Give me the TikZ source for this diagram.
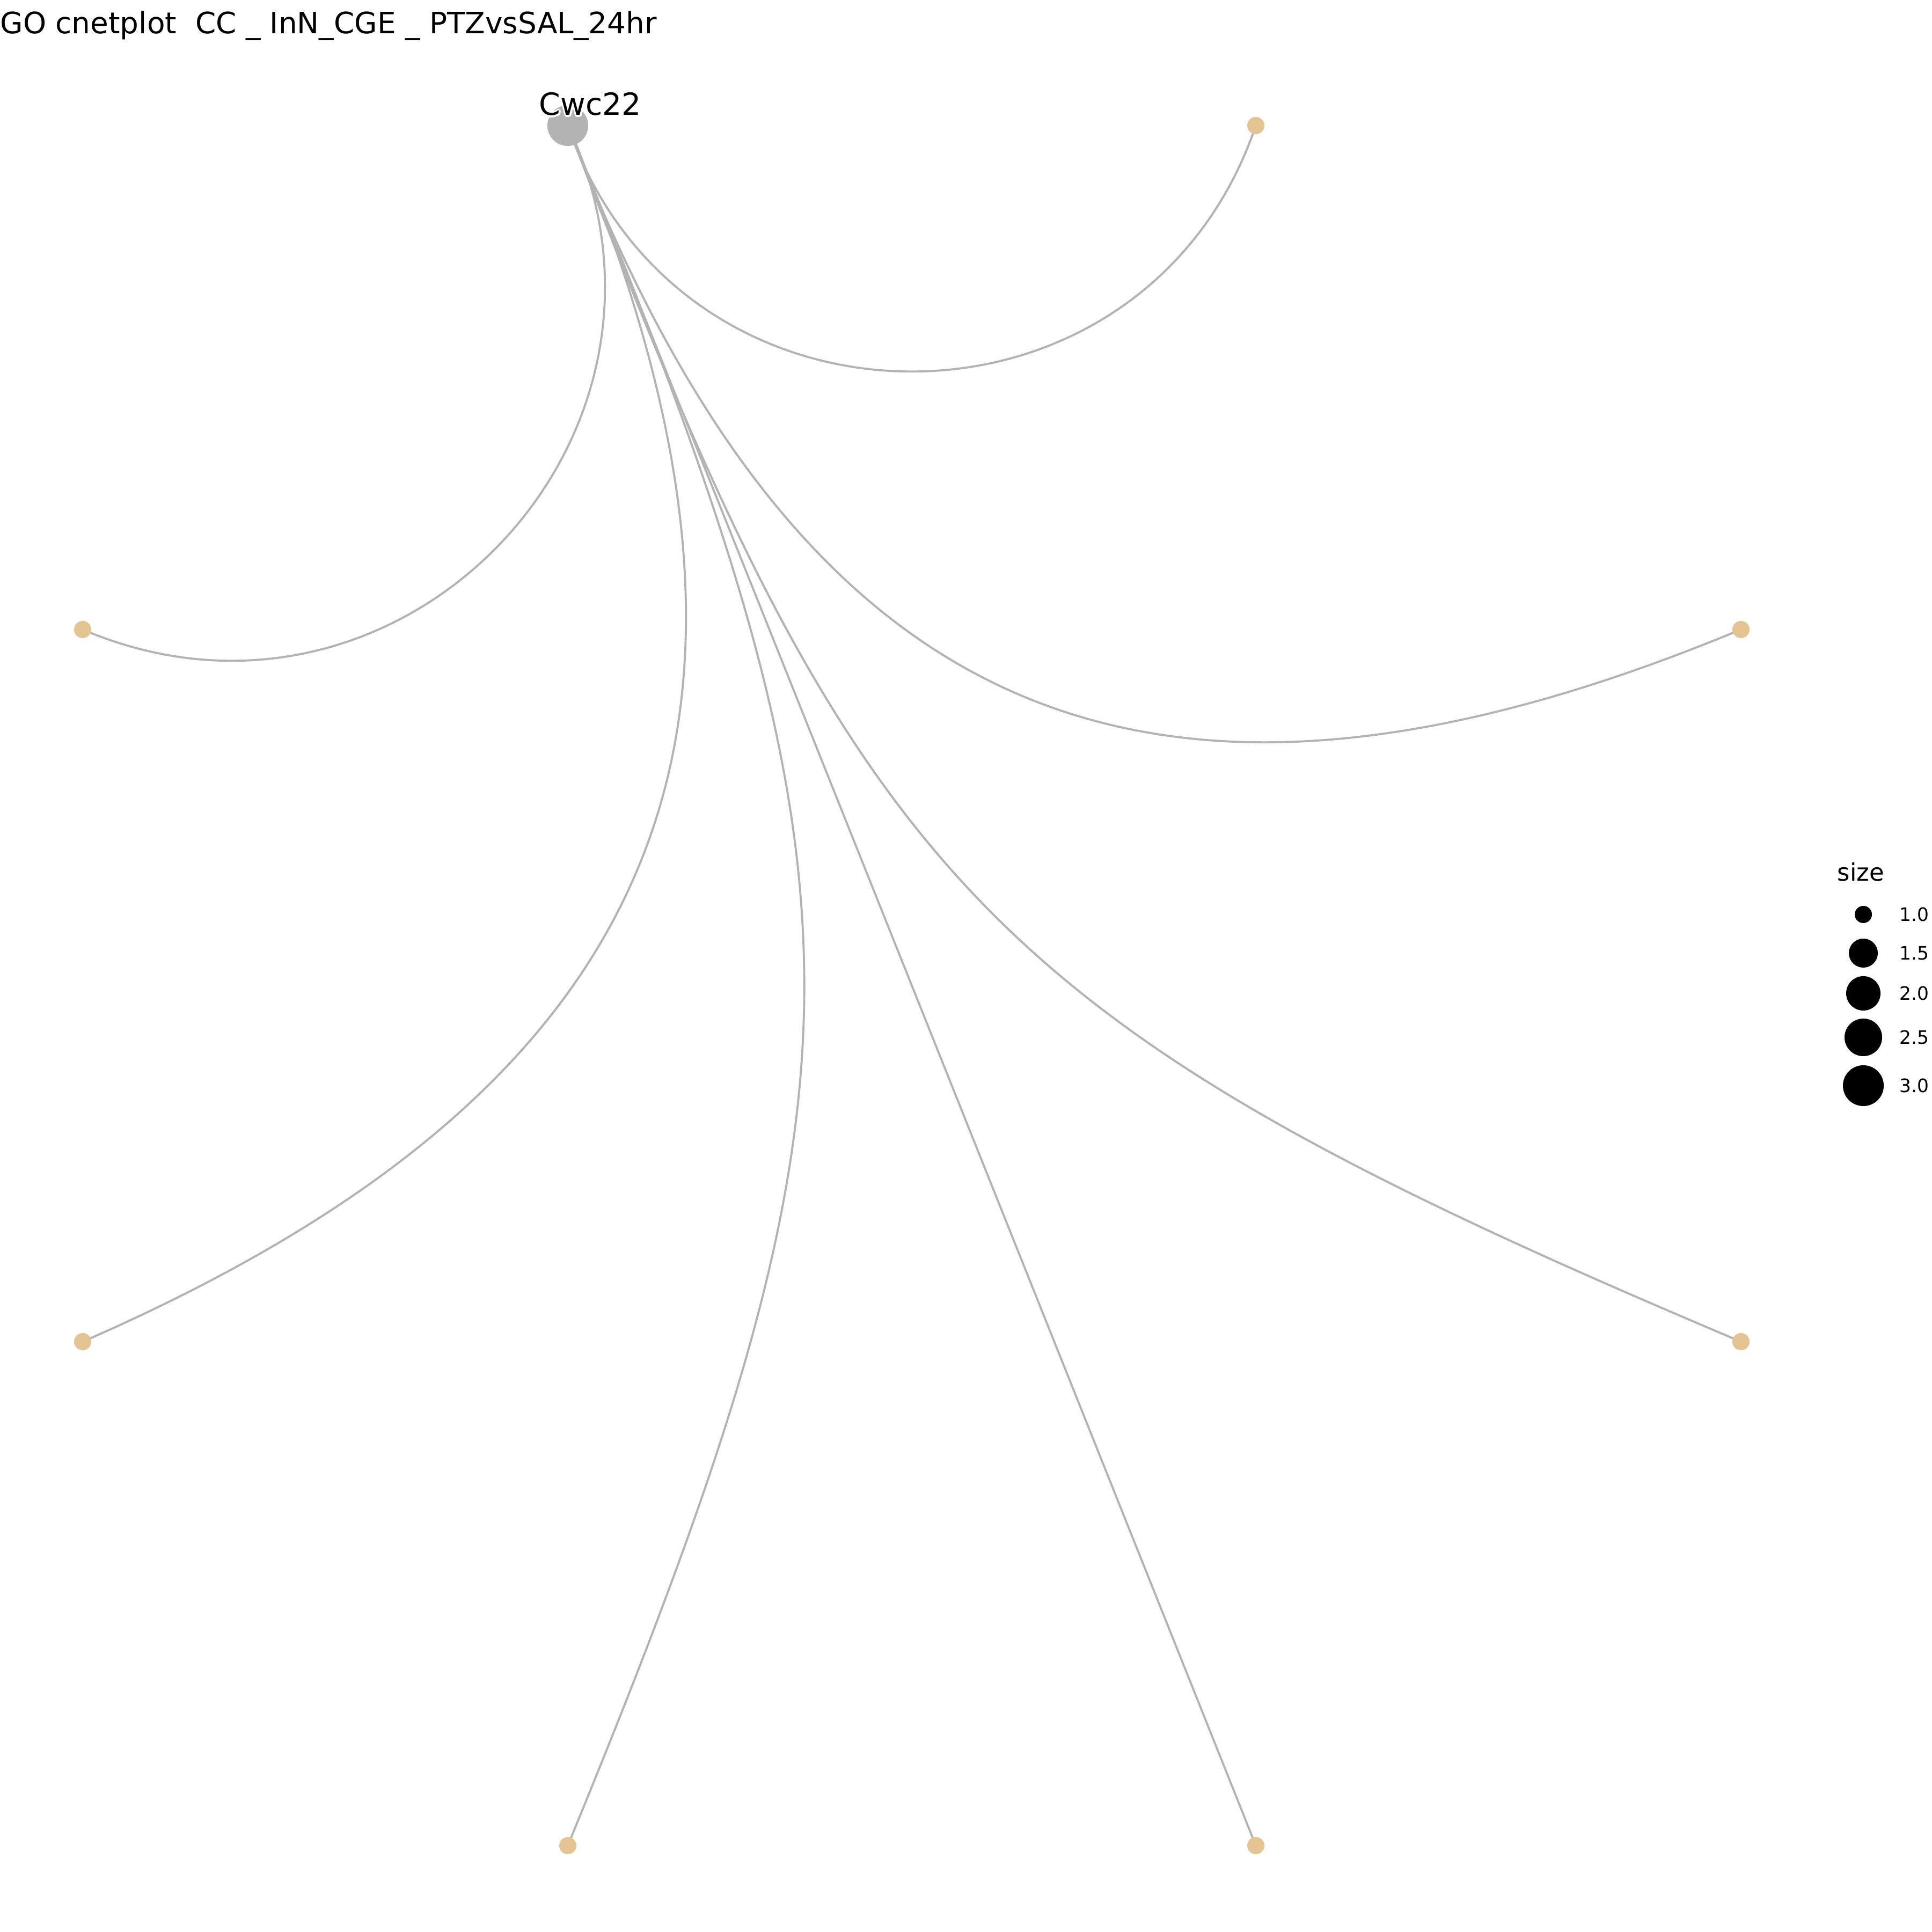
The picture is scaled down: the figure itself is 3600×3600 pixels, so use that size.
\documentclass[tikz,border=0pt]{standalone}
\usepackage{fontspec}
\usetikzlibrary{calc}
\setmainfont{DejaVu Sans}
\definecolor{nodegray}{HTML}{B3B3B3}
\definecolor{cattan}{HTML}{E5C494}
\definecolor{edgegray}{HTML}{B3B3B3}
\pgfdeclarelayer{bg}
\pgfsetlayers{bg,main}
\begin{document}
\begin{tikzpicture}[x=0.01cm,y=0.01cm,
  gene/.style={circle, fill=nodegray, inner sep=0pt, minimum size=0.76cm},
  cat/.style={circle, fill=cattan, inner sep=0pt, minimum size=0.32cm},
  cnetedge/.style={draw=edgegray, line width=1.1pt},
  lgdot/.style={circle, fill=black, inner sep=0pt},
  lgtext/.style={anchor=base west, inner sep=0pt, font=\fontsize{9.8}{11}\selectfont},
  halo/.style={anchor=base, inner sep=0pt, text=white, font=\fontsize{16.2}{19}\selectfont}]
\useasboundingbox (0,0) rectangle (3600,3600);
% title
\node[anchor=base west, inner sep=0pt, font=\fontsize{15.6}{18}\selectfont] (title) at (0,3537) {GO cnetplot\ \ CC \_ InN\_CGE \_ PTZvsSAL\_24hr};
% nodes
\node[gene] (c) at (1058,3366) {};
\node[cat] (l1) at (2340,3366) {};
\node[cat] (l2) at (3244,2427) {};
\node[cat] (l3) at (3244,1100) {};
\node[cat] (l4) at (2340,161) {};
\node[cat] (l5) at (1058,161) {};
\node[cat] (l6) at (154,1100) {};
\node[cat] (l7) at (154,2427) {};
% edges (behind the nodes)
\begin{pgfonlayer}{bg}
\fill[white] (0,0) rectangle (3600,3600);
\draw[cnetedge] (c.center) .. controls (1266.2,2754.9) and (2131.8,2754.9) .. (l1.center);
\draw[cnetedge] (c.center) .. controls (1332.2,2786.3) and (743.6,2175.1) .. (l7.center);
\draw[cnetedge] (c.center) .. controls (1485.1,2250.3) and (2140.9,1968.6) .. (l2.center);
\draw[cnetedge] (c.center) .. controls (1527.2,2259.5) and (1256.0,1579.7) .. (l6.center);
\draw[cnetedge] (c.center) .. controls (1600.9,1938.5) and (1836.9,1693.7) .. (l3.center);
\draw[cnetedge] (c.center) .. controls (1645.5,1936.6) and (1645.5,1590.4) .. (l5.center);
\draw[cnetedge] (c.center) -- (l4.center);
\end{pgfonlayer}
% label with halo
\foreach \a [count=\i] in {0,45,...,315} {
  \node[halo] (h\i) at ($(1100,3385)+(\a:3.5)$) {Cwc22};
}
\node[anchor=base, inner sep=0pt, font=\fontsize{16.2}{19}\selectfont] (lab) at (1100,3385) {Cwc22};
% legend
\node[anchor=base west, inner sep=0pt, font=\fontsize{12.8}{15}\selectfont] (lgtitle) at (3423,1958) {size};
\node[lgdot, minimum size=0.32cm] (d1) at (3472,1896) {};
\node[lgdot, minimum size=0.54cm] (d2) at (3472,1824) {};
\node[lgdot, minimum size=0.64cm] (d3) at (3472,1749) {};
\node[lgdot, minimum size=0.70cm] (d4) at (3472,1667) {};
\node[lgdot, minimum size=0.76cm] (d5) at (3472,1577) {};
\node[lgtext] (t1) at (3539,1883.5) {1.0};
\node[lgtext] (t2) at (3539,1811.5) {1.5};
\node[lgtext] (t3) at (3539,1736.5) {2.0};
\node[lgtext] (t4) at (3539,1654.5) {2.5};
\node[lgtext] (t5) at (3539,1564.5) {3.0};
\end{tikzpicture}
\end{document}
